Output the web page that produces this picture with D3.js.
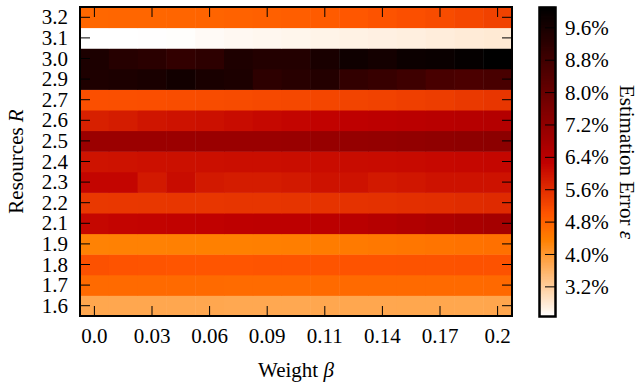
<!DOCTYPE html>
<html>
<head>
<meta charset="utf-8">
<script src="https://cdn.jsdelivr.net/npm/d3@7"></script>
<style>
  body { margin: 0; background: #fff; }
  svg { display: block; font-family: "Liberation Serif", "Times New Roman", serif; }
</style>
</head>
<body>
<svg id="chart" width="642" height="385"></svg>
<script>
// weight beta columns (15 steps, every other one labelled)
const betaLabels = ["0.0", "", "0.03", "", "0.06", "", "0.09", "", "0.11", "", "0.14", "", "0.17", "", "0.2"]
// resources R rows, bottom to top
const resourceLabels = ["1.6", "1.7", "1.8", "1.9", "2.1", "2.2", "2.3", "2.4", "2.5", "2.6", "2.7", "2.9", "3.0", "3.1", "3.2"]

// estimation error in %, one list per R row
const errR16 = [3.80, 3.79, 3.79, 3.79, 3.79, 3.78, 3.78, 3.78, 3.79, 3.79, 3.79, 3.80, 3.80, 3.80, 3.81]
const errR17 = [4.71, 4.70, 4.70, 4.70, 4.70, 4.69, 4.69, 4.69, 4.70, 4.70, 4.70, 4.71, 4.71, 4.71, 4.72]
const errR18 = [5.08, 5.04, 5.03, 5.02, 5.02, 5.02, 5.03, 5.03, 5.03, 5.04, 5.04, 5.05, 5.05, 5.06, 5.06]
const errR19 = [4.35, 4.36, 4.36, 4.37, 4.38, 4.38, 4.39, 4.40, 4.43, 4.46, 4.50, 4.53, 4.56, 4.59, 4.62]
const errR21 = [6.18, 6.22, 6.24, 6.25, 6.27, 6.30, 6.32, 6.33, 6.36, 6.40, 6.48, 6.56, 6.64, 6.72, 6.80]
const errR22 = [5.45, 5.46, 5.47, 5.48, 5.48, 5.49, 5.50, 5.51, 5.52, 5.54, 5.56, 5.58, 5.60, 5.63, 5.66]
const errR23 = [6.21, 6.21, 5.91, 6.11, 5.91, 5.87, 5.87, 5.91, 6.01, 6.01, 5.91, 5.95, 6.01, 6.01, 6.01]
const errR24 = [6.00, 6.02, 6.04, 6.05, 6.06, 6.07, 6.08, 6.09, 6.10, 6.11, 6.12, 6.14, 6.16, 6.18, 6.20]
const errR25 = [7.00, 7.00, 7.01, 7.01, 7.02, 7.02, 7.03, 7.04, 7.08, 7.12, 7.15, 7.18, 7.22, 7.26, 7.30]
const errR26 = [5.81, 5.87, 5.97, 6.01, 6.05, 6.11, 6.17, 6.21, 6.25, 6.31, 6.35, 6.39, 6.43, 6.47, 6.51]
const errR27 = [5.10, 5.11, 5.12, 5.13, 5.15, 5.17, 5.19, 5.21, 5.24, 5.27, 5.30, 5.34, 5.38, 5.43, 5.48]
const errR29 = [9.49, 9.53, 9.59, 9.73, 9.59, 9.53, 9.19, 9.29, 9.39, 9.10, 9.00, 8.86, 8.66, 8.60, 8.66]
const errR30 = [9.53, 9.33, 9.25, 9.10, 9.19, 9.49, 9.39, 9.39, 9.59, 9.79, 9.69, 9.85, 9.89, 9.99, 10.09]
const errR31 = [2.48, 2.48, 2.49, 2.50, 2.55, 2.58, 2.60, 2.62, 2.65, 2.68, 2.70, 2.72, 2.75, 2.78, 2.80]
const errR32 = [4.75, 4.76, 4.77, 4.78, 4.80, 4.82, 4.85, 4.88, 4.93, 4.98, 5.05, 5.10, 5.15, 5.22, 5.30]

const errorRows = [errR16, errR17, errR18, errR19, errR21, errR22, errR23, errR24,
    errR25, errR26, errR27, errR29, errR30, errR31, errR32]

const colorbarTicks = [3.2, 4.0, 4.8, 5.6, 6.4, 7.2, 8.0, 8.8, 9.6]

// matplotlib gist_heat_r
function gistHeatR(t) {
    const x = 1 - t
    const c = v => Math.round(255 * Math.max(0, Math.min(1, v)))
    return `rgb(${c(1.5 * x)},${c(2 * x - 1)},${c(4 * x - 3)})`
}

const cells = []
errorRows.forEach((row, ri) => row.forEach((v, ci) => cells.push({ r: ri, c: ci, v: v })))

const plotLeft = 80, plotRight = 512, plotTop = 7, plotBottom = 316
const svg = d3.select("#chart")

const x = d3.scaleBand().domain(d3.range(betaLabels.length)).range([plotLeft, plotRight])
const y = d3.scaleBand().domain(d3.range(resourceLabels.length)).range([plotBottom, plotTop])
const extent = d3.extent(cells, d => d.v)
const color = d3.scaleSequential(gistHeatR).domain(extent)

svg.append("g")
    .selectAll("rect")
    .data(cells)
    .join("rect")
    .attr("x", d => x(d.c))
    .attr("y", d => y(d.r))
    .attr("width", x.bandwidth() + 0.5)
    .attr("height", y.bandwidth() + 0.5)
    .attr("fill", d => color(d.v))

const tickLen = 10
const fontSize = "21px"

// x ticks: bottom and top, inward
const xTickIdx = d3.range(0, betaLabels.length, 2)
const xt = svg.append("g").attr("stroke", "#000").attr("stroke-width", 1)
xTickIdx.forEach(i => {
    const cx = x(i) + x.bandwidth() / 2
    xt.append("line").attr("x1", cx).attr("x2", cx).attr("y1", plotBottom).attr("y2", plotBottom - tickLen)
    xt.append("line").attr("x1", cx).attr("x2", cx).attr("y1", plotTop).attr("y2", plotTop + tickLen)
})
svg.append("g")
    .selectAll("text")
    .data(xTickIdx)
    .join("text")
    .attr("x", i => x(i) + x.bandwidth() / 2)
    .attr("y", 343)
    .attr("text-anchor", "middle")
    .style("font-size", fontSize)
    .text(i => betaLabels[i])

// y ticks: left and right, inward
const yTickIdx = d3.range(resourceLabels.length)
yTickIdx.forEach(i => {
    const cy = y(i) + y.bandwidth() / 2
    xt.append("line").attr("x1", plotLeft).attr("x2", plotLeft + tickLen).attr("y1", cy).attr("y2", cy)
    xt.append("line").attr("x1", plotRight).attr("x2", plotRight - tickLen).attr("y1", cy).attr("y2", cy)
})
svg.append("g")
    .selectAll("text")
    .data(yTickIdx)
    .join("text")
    .attr("x", 68)
    .attr("y", i => y(i) + y.bandwidth() / 2)
    .attr("dy", "0.34em")
    .attr("text-anchor", "end")
    .style("font-size", fontSize)
    .text(i => resourceLabels[i])

// frame
svg.append("rect")
    .attr("x", plotLeft).attr("y", plotTop)
    .attr("width", plotRight - plotLeft).attr("height", plotBottom - plotTop)
    .attr("fill", "none").attr("stroke", "#000").attr("stroke-width", 2)

// axis titles
const xTitle = svg.append("text")
    .attr("x", (plotLeft + plotRight) / 2)
    .attr("y", 377)
    .attr("text-anchor", "middle")
    .style("font-size", fontSize)
xTitle.append("tspan").text("Weight ")
xTitle.append("tspan").style("font-style", "italic").text("β")

const yTitle = svg.append("text")
    .attr("transform", `translate(23,${(plotTop + plotBottom) / 2}) rotate(-90)`)
    .attr("text-anchor", "middle")
    .style("font-size", fontSize)
yTitle.append("tspan").text("Resources ")
yTitle.append("tspan").style("font-style", "italic").text("R")

// colorbar
const cbLeft = 540, cbRight = 555, cbTop = 8, cbBottom = 316
const cbScale = d3.scaleLinear().domain(extent).range([cbBottom, cbTop])
const steps = d3.range(200).map(i => extent[0] + (extent[1] - extent[0]) * i / 199)
svg.append("g")
    .selectAll("rect")
    .data(steps)
    .join("rect")
    .attr("x", cbLeft)
    .attr("width", cbRight - cbLeft)
    .attr("y", d => cbScale(d) - 1.2)
    .attr("height", 2.4)
    .attr("fill", d => color(d))

const cbt = svg.append("g").attr("stroke", "#000").attr("stroke-width", 1)
colorbarTicks.forEach(v => {
    cbt.append("line")
        .attr("x1", cbRight).attr("x2", cbRight - tickLen)
        .attr("y1", cbScale(v)).attr("y2", cbScale(v))
})
svg.append("rect")
    .attr("x", cbLeft - 0.5).attr("y", cbTop - 0.5)
    .attr("width", cbRight - cbLeft + 1).attr("height", cbBottom - cbTop + 1)
    .attr("fill", "none").attr("stroke", "#000").attr("stroke-width", 2.5)

svg.append("g")
    .selectAll("text")
    .data(colorbarTicks)
    .join("text")
    .attr("x", 565)
    .attr("y", d => cbScale(d))
    .attr("dy", "0.34em")
    .style("font-size", fontSize)
    .text(d => d.toFixed(1) + "%")

const cbTitle = svg.append("text")
    .attr("transform", `translate(620,${(cbTop + cbBottom) / 2}) rotate(90)`)
    .attr("text-anchor", "middle")
    .style("font-size", fontSize)
cbTitle.append("tspan").text("Estimation Error ")
cbTitle.append("tspan").style("font-style", "italic").text("ε")
</script>
</body>
</html>
